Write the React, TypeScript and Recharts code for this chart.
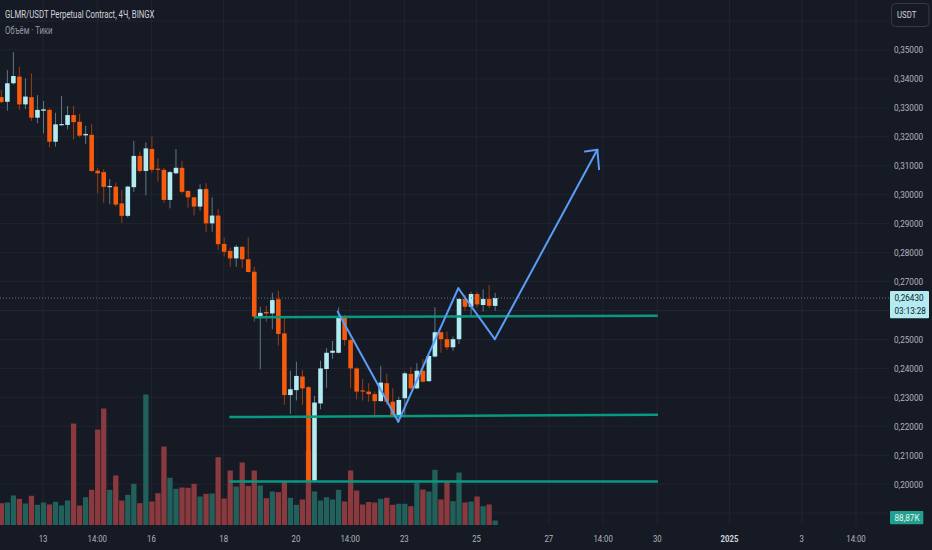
import { Bar, CartesianGrid, ComposedChart, ReferenceLine, XAxis, YAxis } from 'recharts';

// 4h candles, GLMR/USDT
const opens = [
  0.3337, 0.3321, 0.3385, 0.3408, 0.3312, 0.3337, 0.3266, 0.329, 0.3293, 0.3183,
  0.324, 0.3241, 0.3275, 0.3252, 0.3205, 0.3207, 0.3083, 0.3078, 0.3026, 0.3028,
  0.297, 0.2927, 0.3026, 0.3134, 0.3082, 0.3158, 0.309, 0.3086, 0.2982, 0.3074,
  0.3093, 0.3013, 0.2991, 0.2959, 0.302, 0.2901, 0.2928, 0.283, 0.2806, 0.278,
  0.282, 0.2777, 0.2734, 0.2579, 0.2595, 0.259, 0.2639, 0.2521, 0.2308, 0.2325,
  0.2372, 0.2335, 0.2012, 0.2279, 0.2398, 0.2454, 0.2454, 0.2577, 0.2498, 0.24,
  0.2324, 0.232, 0.2311, 0.2287, 0.2349, 0.2285, 0.2237, 0.2297, 0.2381, 0.2331,
  0.2392, 0.2356, 0.2441, 0.2525, 0.2501, 0.2473, 0.2501, 0.264, 0.2613, 0.2657,
  0.2619, 0.264, 0.2616,
];
const highs = [
  0.3362, 0.3431, 0.3492, 0.3442, 0.3402, 0.3419, 0.3344, 0.3324, 0.3299, 0.3283,
  0.3341, 0.3307, 0.3307, 0.3279, 0.3238, 0.3244, 0.3093, 0.3088, 0.3054, 0.3042,
  0.3016, 0.3031, 0.3186, 0.3149, 0.3181, 0.3201, 0.3126, 0.3093, 0.3083, 0.3158,
  0.3117, 0.3016, 0.2993, 0.3036, 0.304, 0.2991, 0.295, 0.2852, 0.2817, 0.2826,
  0.2823, 0.2852, 0.2751, 0.2613, 0.2616, 0.2661, 0.2668, 0.2577, 0.2392, 0.2423,
  0.2395, 0.2339, 0.2305, 0.2427, 0.247, 0.2495, 0.2611, 0.2585, 0.2504, 0.2404,
  0.2364, 0.2349, 0.232, 0.2409, 0.2381, 0.2331, 0.2302, 0.2389, 0.2404, 0.2418,
  0.2432, 0.2446, 0.2611, 0.2527, 0.2527, 0.251, 0.2642, 0.2654, 0.2665, 0.2665,
  0.2673, 0.2688, 0.2661,
];
const lows = [
  0.3316, 0.329, 0.3381, 0.3293, 0.3296, 0.3255, 0.3247, 0.3212, 0.3164, 0.3166,
  0.3237, 0.3226, 0.3191, 0.3198, 0.3175, 0.3078, 0.3005, 0.2972, 0.2967, 0.2959,
  0.2903, 0.2921, 0.301, 0.3076, 0.2998, 0.3076, 0.3045, 0.2972, 0.2953, 0.3071,
  0.3005, 0.2955, 0.2928, 0.2945, 0.287, 0.2872, 0.2809, 0.2786, 0.2751, 0.2751,
  0.2746, 0.2731, 0.2561, 0.2397, 0.2561, 0.2535, 0.2479, 0.2274, 0.2243, 0.2289,
  0.2274, 0.2004, 0.2009, 0.2259, 0.2333, 0.2433, 0.2452, 0.2479, 0.2333, 0.2293,
  0.2289, 0.2285, 0.2236, 0.2285, 0.2274, 0.2237, 0.2222, 0.2233, 0.2325, 0.2328,
  0.2352, 0.2353, 0.2438, 0.2454, 0.2464, 0.2461, 0.2484, 0.2599, 0.2581, 0.261,
  0.2596, 0.2608, 0.2599,
];
const closes = [
  0.332, 0.3385, 0.341, 0.3312, 0.3339, 0.3266, 0.3293, 0.3295, 0.3183, 0.3243,
  0.3244, 0.3275, 0.3251, 0.3204, 0.321, 0.3082, 0.3074, 0.3027, 0.303, 0.2966,
  0.2927, 0.3028, 0.3134, 0.3082, 0.316, 0.3086, 0.3086, 0.2982, 0.3078, 0.3093,
  0.301, 0.2991, 0.2959, 0.3019, 0.2901, 0.2928, 0.2829, 0.2803, 0.278, 0.282,
  0.2777, 0.2733, 0.2579, 0.2592, 0.259, 0.2636, 0.2519, 0.2308, 0.2328, 0.2374,
  0.2331, 0.2009, 0.2282, 0.24, 0.2454, 0.2461, 0.2579, 0.2498, 0.24, 0.232,
  0.232, 0.2311, 0.2287, 0.2351, 0.2285, 0.2239, 0.2291, 0.2383, 0.2331, 0.2392,
  0.2354, 0.2443, 0.2525, 0.2501, 0.2473, 0.2501, 0.264, 0.2613, 0.2657, 0.2621,
  0.264, 0.2616, 0.2643,
];
// volume, thousands
const volumes = [
  431, 444, 583, 517, 425, 577, 399, 444, 405, 458,
  385, 484, 2005, 385, 549, 695, 1886, 2301, 695, 978,
  484, 596, 814, 431, 2577, 464, 628, 1550, 932, 715,
  741, 735, 814, 563, 616, 622, 1339, 523, 1076, 760,
  1234, 770, 1076, 780, 529, 662, 648, 859, 537, 399,
  504, 1471, 662, 484, 549, 504, 695, 464, 1076, 681,
  405, 454, 444, 517, 537, 399, 419, 419, 371, 833,
  701, 662, 1090, 504, 845, 470, 1037, 444, 464, 563,
  371, 405, 88.87,
];

const timeTicks = [7, 16, 25, 37, 49, 58, 67, 79, 91, 100, 109, 121, 133, 142];
const timeLabels = ['13', '14:00', '16', '18', '20', '14:00', '23', '25', '27', '14:00', '30', '2025', '3', '14:00'];
const priceTicks = [0.2, 0.21, 0.22, 0.23, 0.24, 0.25, 0.27, 0.28, 0.29, 0.3, 0.31, 0.32, 0.33, 0.34, 0.35];
const priceGrid = [0.19, 0.2, 0.21, 0.22, 0.23, 0.24, 0.25, 0.26, 0.27, 0.28, 0.29, 0.3, 0.31, 0.32, 0.33, 0.34, 0.35, 0.36];

const lastPrice = 0.2643;
const countdown = '03:13:28';

// drawings: [bar index, price]
const levelLines = [
  [[42.04, 0.2577], [109.07, 0.2582]],
  [[37.94, 0.2232], [109.12, 0.224]],
  [[37.94, 0.2009], [109.12, 0.2009]],
];
const pathPoints = [[55.94, 0.2596], [66.0, 0.2216], [75.96, 0.2677], [82.02, 0.2501], [99.05, 0.3155]];
const arrowHead = [[97.0, 0.3149], [99.05, 0.3155], [99.33, 0.3088]];

const BG = '#161a25';
const GRID = '#21252f';
const TEXT = '#b2b5be';
const UP = '#b2ebf2';
const UP_WICK = '#5f7882';
const DOWN = '#f65a0c';
const DOWN_WICK = '#9a3d13';
const VOL_UP = '#21605b';
const VOL_DOWN = '#8a3a3e';
const LEVEL = '#089981';
const PATH = '#5b9cf6';
const FONT = 'Roboto, sans-serif';

const rows = opens.map((open, i) => ({
  i,
  open,
  high: highs[i],
  low: lows[i],
  close: closes[i],
  vol: volumes[i],
  range: [lows[i], highs[i]],
}));

const fmtPrice = (v: number) => v.toFixed(5).replace('.', ',');
const fmtVol = (v: number) => v.toFixed(2).replace('.', ',') + 'K';

function pairs(points: number[][]) {
  return points.slice(1).map((p, k) => [points[k], p]);
}

function Candle(props: any) {
  const { x, y, width, height } = props;
  const d = props.payload ?? props;
  const top = Math.min(y, y + height);
  const span = Math.abs(height);
  const k = span / (d.high - d.low);
  const cx = x + width / 2;
  const yo = top + (d.high - d.open) * k;
  const yc = top + (d.high - d.close) * k;
  const up = d.close >= d.open;
  return (
    <g>
      <line x1={cx} x2={cx} y1={top} y2={top + span} stroke={up ? UP_WICK : DOWN_WICK} strokeWidth={1} />
      <rect x={cx - 2.3} y={Math.min(yo, yc)} width={4.6} height={Math.max(Math.abs(yc - yo), 1)} fill={up ? UP : DOWN} />
    </g>
  );
}

function VolumeBar(props: any) {
  const { x, y, width, height } = props;
  const d = props.payload ?? props;
  const up = d.close >= d.open;
  return <rect x={x + width / 2 - 2.65} y={y} width={5.3} height={height} fill={up ? VOL_UP : VOL_DOWN} />;
}

function TimeTick({ x, y, payload }: any) {
  const idx = timeTicks.indexOf(payload.value);
  const label = timeLabels[idx] ?? '';
  const bold = label === '2025';
  return (
    <text
      transform={`translate(${x} ${y + 16.5}) scale(0.82 1)`}
      textAnchor="middle"
      fontSize={9.5}
      fontFamily={FONT}
      fontWeight={bold ? 700 : 400}
      fill={bold ? '#d1d4dc' : TEXT}
    >
      {label}
    </text>
  );
}

function PriceTick({ x, y, payload }: any) {
  return (
    <text transform={`translate(${x} ${y + 3.4}) scale(0.86 1)`} textAnchor="start" fontSize={9.5} fontFamily={FONT} fill={TEXT}>
      {fmtPrice(payload.value)}
    </text>
  );
}

function LastPriceLabel({ viewBox }: any) {
  const right = viewBox.x + viewBox.width;
  const py = viewBox.y;
  return (
    <g>
      <rect x={right + 1} y={py - 7} width={39} height={27.3} fill={UP} rx={1} />
      <text transform={`translate(${right + 5.5} ${py + 3.4}) scale(0.86 1)`} fontSize={9.5} fontFamily={FONT} fill="#131722">
        {fmtPrice(lastPrice)}
      </text>
      <text transform={`translate(${right + 5.5} ${py + 16}) scale(0.86 1)`} fontSize={9.5} fontFamily={FONT} fill="#131722">
        {countdown}
      </text>
    </g>
  );
}

function LastVolumeLabel({ viewBox }: any) {
  const right = viewBox.x + viewBox.width;
  const vy = viewBox.y;
  return (
    <g>
      <rect x={right + 1} y={vy - 9.5} width={33.3} height={13.3} fill="#22a08f" rx={1} />
      <text transform={`translate(${right + 5.5} ${vy + 0.8}) scale(0.86 1)`} fontSize={9.5} fontFamily={FONT} fill="#e6f4f1">
        {fmtVol(volumes[volumes.length - 1])}
      </text>
    </g>
  );
}

export default function App() {
  return (
    <div style={{ position: 'fixed', left: 0, top: 0, width: 932, height: 550, background: BG, overflow: 'hidden', fontFamily: FONT }}>
      <ComposedChart width={932} height={550} data={rows} margin={{ top: 0, right: 0, bottom: 0, left: 0 }}>
        <XAxis
          xAxisId="main"
          dataKey="i"
          type="number"
          domain={[-0.141, 147.48]}
          allowDataOverflow
          ticks={timeTicks}
          tick={<TimeTick />}
          tickSize={0}
          tickMargin={0}
          axisLine={false}
          tickLine={false}
          height={25}
        />
        <XAxis xAxisId="vx" dataKey="i" type="number" domain={[-0.141, 147.48]} allowDataOverflow hide />
        <YAxis
          yAxisId="price"
          orientation="right"
          type="number"
          domain={[0.18591, 0.36726]}
          allowDataOverflow
          ticks={priceTicks}
          tick={<PriceTick />}
          tickSize={0}
          tickMargin={5}
          axisLine={false}
          tickLine={false}
          width={43}
        />
        <YAxis yAxisId="vol" type="number" domain={[0, 10369]} allowDataOverflow hide />
        <CartesianGrid
          xAxisId="main"
          yAxisId="price"
          stroke={GRID}
          horizontalValues={priceGrid}
          verticalValues={timeTicks}
        />
        <Bar xAxisId="vx" yAxisId="vol" dataKey="vol" barSize={5} shape={<VolumeBar />} isAnimationActive={false} />
        <Bar xAxisId="main" yAxisId="price" dataKey="range" barSize={5} shape={<Candle />} isAnimationActive={false} />
        <ReferenceLine
          xAxisId="main"
          yAxisId="price"
          y={lastPrice}
          stroke="#6a6e79"
          strokeDasharray="1 2"
          label={<LastPriceLabel />}
        />
        <ReferenceLine xAxisId="vx" yAxisId="vol" y={volumes[volumes.length - 1]} stroke="none" label={<LastVolumeLabel />} />
        {levelLines.map((seg, k) => (
          <ReferenceLine
            key={`lvl-${k}`}
            xAxisId="main"
            yAxisId="price"
            segment={seg.map(([x, y]) => ({ x, y }))}
            stroke={LEVEL}
            strokeWidth={2.5}
          />
        ))}
        {[...pairs(pathPoints), ...pairs(arrowHead)].map((seg, k) => (
          <ReferenceLine
            key={`path-${k}`}
            xAxisId="main"
            yAxisId="price"
            segment={seg.map(([x, y]) => ({ x, y }))}
            stroke={PATH}
            strokeWidth={2}
            strokeLinecap="round"
          />
        ))}
      </ComposedChart>
      <svg width={932} height={550} style={{ position: 'absolute', left: 0, top: 0, pointerEvents: 'none' }}>
        <text transform="translate(5 17.5) scale(0.78 1)" fontSize={10} fontFamily={FONT} fill="#d1d4dc">
          GLMR/USDT Perpetual Contract, 4Ч, BINGX
        </text>
        <text transform="translate(5 33.5) scale(0.78 1)" fontSize={10} fontFamily={FONT} fill="#9598a1">
          Объём · Тики
        </text>
        <rect x={891.5} y={3.5} width={37.5} height={23} rx={4} fill="none" stroke="#363a45" />
        <text transform="translate(897 18.3) scale(0.82 1)" fontSize={9.5} fontFamily={FONT} fill="#d1d4dc">
          USDT
        </text>
      </svg>
    </div>
  );
}
